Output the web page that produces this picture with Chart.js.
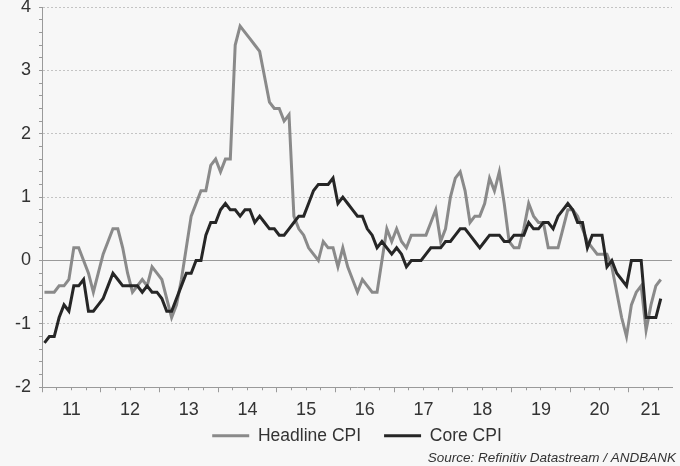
<!DOCTYPE html>
<html><head><meta charset="utf-8">
<script src="https://cdn.jsdelivr.net/npm/chart.js@4.4.1/dist/chart.umd.min.js"></script>
<style>html,body{margin:0;padding:0;background:#f7f7f7;}canvas{display:block;}</style>
</head><body>
<canvas id="c" width="680" height="466"></canvas>
<script>
// Monthly y/y %, Jan 2011 (index 0) to Jul 2021 (index 126)
const headlineCPI = [
 -0.5,-0.5,-0.5,-0.4,-0.4,-0.3, 0.2, 0.2, 0.0,-0.2,-0.5,-0.2,
  0.1, 0.3, 0.5, 0.5, 0.2,-0.2,-0.5,-0.4,-0.3,-0.4,-0.1,-0.2,
 -0.3,-0.6,-0.9,-0.7,-0.3, 0.2, 0.7, 0.9, 1.1, 1.1, 1.5, 1.6,
  1.4, 1.6, 1.6, 3.4, 3.7, 3.6, 3.5, 3.4, 3.3, 2.9, 2.5, 2.4,
  2.4, 2.2, 2.3, 0.7, 0.5, 0.4, 0.2, 0.1, 0.0, 0.3, 0.2, 0.2,
 -0.1, 0.2,-0.1,-0.3,-0.5,-0.3,-0.4,-0.5,-0.5, 0.0, 0.5, 0.3,
  0.5, 0.3, 0.2, 0.4, 0.4, 0.4, 0.4, 0.6, 0.8, 0.3, 0.5, 1.0,
  1.3, 1.4, 1.1, 0.6, 0.7, 0.7, 0.9, 1.3, 1.1, 1.4, 0.9, 0.3,
  0.2, 0.2, 0.5, 0.9, 0.7, 0.6, 0.6, 0.2, 0.2, 0.2, 0.5, 0.8,
  0.8, 0.7, 0.5, 0.3, 0.2, 0.1, 0.1, 0.1,-0.1,-0.5,-0.9,-1.2,
 -0.7,-0.5,-0.4,-1.1,-0.7,-0.4,-0.3
];
const coreCPI = [
 -1.3,-1.2,-1.2,-0.9,-0.7,-0.8,-0.4,-0.4,-0.3,-0.8,-0.8,-0.7,
 -0.6,-0.4,-0.2,-0.3,-0.4,-0.4,-0.4,-0.4,-0.5,-0.4,-0.5,-0.5,
 -0.6,-0.8,-0.8,-0.6,-0.4,-0.2,-0.2, 0.0, 0.0, 0.4, 0.6, 0.6,
  0.8, 0.9, 0.8, 0.8, 0.7, 0.8, 0.8, 0.6, 0.7, 0.6, 0.5, 0.5,
  0.4, 0.4, 0.5, 0.6, 0.7, 0.7, 0.9, 1.1, 1.2, 1.2, 1.2, 1.3,
  0.9, 1.0, 0.9, 0.8, 0.7, 0.7, 0.5, 0.4, 0.2, 0.3, 0.2, 0.1,
  0.2, 0.1,-0.1, 0.0, 0.0, 0.0, 0.1, 0.2, 0.2, 0.2, 0.3, 0.3,
  0.4, 0.5, 0.5, 0.4, 0.3, 0.2, 0.3, 0.4, 0.4, 0.4, 0.3, 0.3,
  0.4, 0.4, 0.4, 0.6, 0.5, 0.5, 0.6, 0.6, 0.5, 0.7, 0.8, 0.9,
  0.8, 0.6, 0.6, 0.2, 0.4, 0.4, 0.4,-0.1, 0.0,-0.2,-0.3,-0.4,
  0.0, 0.0, 0.0,-0.9,-0.9,-0.9,-0.6
];
const yearLabels = ['11','12','13','14','15','16','17','18','19','20','21'];
const seriesNames = ['Headline CPI','Core CPI'];
const sourceText = 'Source: Refinitiv Datastream / ANDBANK';

const X_MIN = -0.5, X_MAX = 128.3;
const Y_MIN = -2, Y_MAX = 4;

const pts = arr => arr.map((v, i) => ({x: i, y: v}));
const quarterTicks = [];
for (let t = X_MIN; t <= X_MAX; t += 3) quarterTicks.push({value: t});
const yearTicks = yearLabels.map((_, k) => ({value: 12 * k - 0.5}));
const yearCenters = yearLabels.map((_, k) => ({value: k < yearLabels.length - 1 ? 12 * k + 5.5 : (12 * k - 0.5 + X_MAX) / 2}));
const yTicks = [];
for (let k = 0; k <= 30; k++) yTicks.push({value: Math.round((Y_MIN + k * 0.2) * 10) / 10});
const isInt = v => Math.abs(v - Math.round(v)) < 1e-6;
const noPad = s => { s.paddingTop = 0; s.paddingBottom = 0; s.paddingLeft = 0; s.paddingRight = 0; };

Chart.defaults.font.family = "'Liberation Sans', Arial, sans-serif";
Chart.defaults.color = '#333';

const bg = {id: 'bg', beforeDraw(chart) {
  const c = chart.ctx; c.save(); c.fillStyle = '#f7f7f7'; c.fillRect(0, 0, chart.width, chart.height); c.restore();
}};

new Chart(document.getElementById('c'), {
  type: 'line',
  data: {datasets: [
    {label: seriesNames[0], data: pts(headlineCPI), borderColor: '#8a8a8a', backgroundColor: '#8a8a8a',
     borderWidth: 3, pointRadius: 0, order: 1, xAxisID: 'x', yAxisID: 'y'},
    {label: seriesNames[1], data: pts(coreCPI), borderColor: '#262626', backgroundColor: '#262626',
     borderWidth: 3, pointRadius: 0, order: 0, xAxisID: 'x', yAxisID: 'y'}
  ]},
  options: {
    responsive: false, animation: false, devicePixelRatio: 1,
    layout: {padding: {top: 7, right: 4, bottom: 4.75, left: 0}},
    plugins: {
      legend: {position: 'bottom', fullSize: false,
        labels: {usePointStyle: true, pointStyle: 'line', pointStyleWidth: 37, padding: 23,
          font: {size: 17.5}, color: '#333', sort: (a, b) => a.datasetIndex - b.datasetIndex}},
      subtitle: {display: true, text: sourceText, position: 'bottom', align: 'end',
        font: {size: 13.5, style: 'italic', lineHeight: 0.5}, color: '#333', padding: 0},
      tooltip: {enabled: false}
    },
    scales: {
      x: {type: 'linear', position: 'bottom', min: X_MIN, max: X_MAX, weight: 0,
        afterBuildTicks: s => { s.ticks = quarterTicks.map(t => ({value: t.value})); },
        ticks: {display: false},
        grid: {drawOnChartArea: false, drawTicks: true, tickLength: 3, tickColor: '#9a9a9a', color: '#9a9a9a'},
        border: {display: true, color: '#9a9a9a', width: 1},
        afterFit: s => { s.height = 0; noPad(s); }},
      xy: {type: 'linear', position: 'bottom', min: X_MIN, max: X_MAX, weight: 0.5,
        afterBuildTicks: s => { s.ticks = yearTicks.map(t => ({value: t.value})); },
        ticks: {display: false},
        grid: {drawOnChartArea: false, drawTicks: true, tickLength: 5, tickColor: '#9a9a9a', color: '#9a9a9a'},
        border: {display: false},
        afterFit: s => { s.height = 0; noPad(s); }},
      xl: {type: 'linear', position: 'bottom', min: X_MIN, max: X_MAX, weight: 1,
        afterBuildTicks: s => { s.ticks = yearCenters.map(t => ({value: t.value})); },
        ticks: {autoSkip: false, maxRotation: 0, mirror: true, padding: -33.8, font: {size: 18}, color: '#333',
          callback: (v, i) => yearLabels[i]},
        grid: {display: false, drawTicks: false},
        border: {display: false},
        afterFit: s => { s.height = 16.75; noPad(s); }},
      y: {type: 'linear', position: 'left', min: Y_MIN, max: Y_MAX, weight: 1,
        afterBuildTicks: s => { s.ticks = yTicks.map(t => ({value: t.value})); },
        ticks: {autoSkip: false, padding: 8, font: {size: 18}, color: '#333',
          callback: v => isInt(v) ? String(Math.round(v)) : ''},
        grid: {drawTicks: true, tickLength: 3, tickColor: '#9a9a9a', lineWidth: 1,
          color: c => {
            if (!c.tick) return '#c4c4c4';
            const v = c.tick.value;
            if (!isInt(v)) return 'rgba(0,0,0,0)';
            const r = Math.round(v);
            if (r === 0 || r === Y_MIN) return 'rgba(0,0,0,0)';
            return '#c4c4c4';
          }},
        border: {display: true, color: '#9a9a9a', width: 1, dash: [2, 2]},
        afterFit: s => { s.width = 42; noPad(s); }},
      yz: {type: 'linear', position: 'left', min: Y_MIN, max: Y_MAX, weight: 0,
        afterBuildTicks: s => { s.ticks = [{value: 0}]; },
        ticks: {display: false},
        grid: {drawTicks: false, color: '#9a9a9a', lineWidth: 1},
        border: {display: false},
        afterFit: s => { s.width = 0; noPad(s); }},
      yr: {type: 'linear', position: 'right', min: Y_MIN, max: Y_MAX,
        ticks: {display: false},
        grid: {display: false, drawTicks: false},
        border: {display: false},
        afterFit: s => { s.width = 4; noPad(s); }}
    }
  },
  plugins: [bg]
});
</script>
</body></html>
